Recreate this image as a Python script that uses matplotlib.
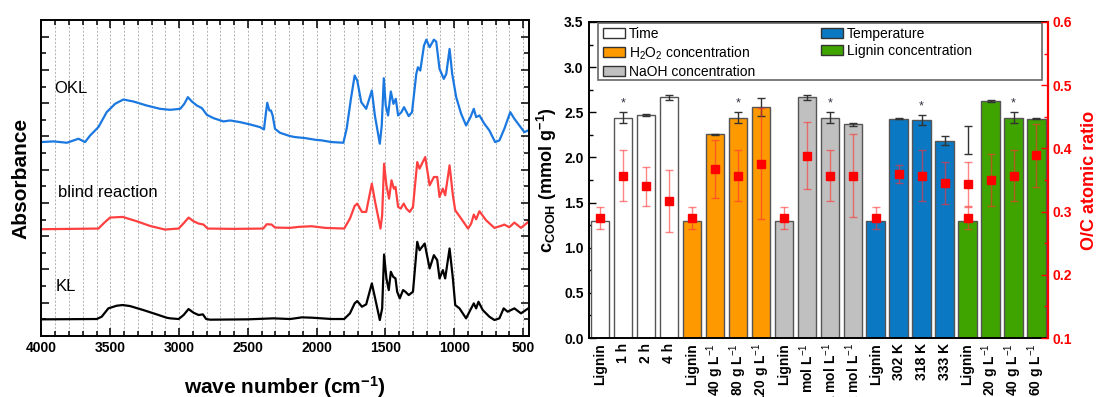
import numpy as np
import matplotlib
matplotlib.use("Agg")
import matplotlib.pyplot as plt
from matplotlib.patches import Patch, Rectangle
from matplotlib.ticker import MultipleLocator

plt.rcParams["font.family"] = ["Liberation Sans", "DejaVu Sans"]
plt.rcParams["mathtext.fontset"] = "custom"
plt.rcParams["mathtext.rm"] = "Liberation Sans"
plt.rcParams["mathtext.bf"] = "Liberation Sans:bold"
plt.rcParams["mathtext.it"] = "Liberation Sans:italic"

# ── FTIR spectra (wave number, absorbance in arbitrary units) ──────────────
kl_wn = [4004, 3598, 3562, 3514, 3453, 3410, 3357, 3260, 3163, 3091,
         3064, 3003, 2967, 2931, 2895, 2858, 2827, 2803, 2774, 2500, 2315, 2194,
         2157, 2108, 2036, 1963, 1891, 1800, 1758, 1724, 1705, 1671, 1640, 1599,
         1575, 1541, 1524, 1510, 1493, 1476, 1461, 1444, 1427, 1415, 1396, 1372,
         1355, 1331, 1300, 1269, 1252, 1215, 1179, 1148, 1124, 1107, 1083, 1066,
         1034, 1010, 993, 962, 914, 877, 858, 841, 824, 793, 745, 708, 672, 641,
         612, 563, 515, 462]
kl_ab = [0.050, 0.051, 0.058, 0.083, 0.091, 0.093, 0.090, 0.078, 0.065, 0.055,
         0.053, 0.051, 0.063, 0.081, 0.070, 0.063, 0.065, 0.051, 0.049, 0.050, 0.053, 0.051,
         0.053, 0.056, 0.055, 0.053, 0.051, 0.051, 0.068, 0.098, 0.105, 0.088, 0.095, 0.158,
         0.113, 0.048, 0.083, 0.245, 0.173, 0.138, 0.193, 0.178, 0.173, 0.133, 0.113, 0.138,
         0.133, 0.123, 0.133, 0.283, 0.258, 0.278, 0.203, 0.243, 0.228, 0.173, 0.198, 0.173,
         0.263, 0.173, 0.093, 0.083, 0.053, 0.083, 0.098, 0.083, 0.103, 0.078, 0.058, 0.048,
         0.053, 0.083, 0.073, 0.083, 0.068, 0.083]

blind_wn = [4004, 3586, 3550, 3502, 3410, 3308, 3212, 3103,
            3003, 2962, 2931, 2895, 2858, 2822, 2793, 2600, 2388, 2363, 2327, 2303, 2194,
            2132, 2036, 1939, 1800, 1758, 1724, 1705, 1671, 1640, 1599, 1575, 1536,
            1524, 1510, 1493, 1474, 1456, 1439, 1427, 1408, 1389, 1367, 1348, 1324,
            1300, 1269, 1252, 1235, 1211, 1179, 1148, 1124, 1107, 1083, 1066, 1034,
            1010, 993, 950, 900, 877, 858, 841, 817, 769, 708, 660, 636, 600, 563,
            515, 462]
blind_ab = [0.321, 0.323, 0.338, 0.356, 0.358, 0.345, 0.331, 0.320,
            0.323, 0.341, 0.356, 0.345, 0.338, 0.335, 0.323, 0.322, 0.323, 0.336, 0.335, 0.326, 0.325,
            0.328, 0.330, 0.325, 0.323, 0.353, 0.391, 0.398, 0.373, 0.373, 0.458, 0.403, 0.323,
            0.363, 0.518, 0.453, 0.413, 0.468, 0.443, 0.448, 0.388, 0.383, 0.398, 0.383, 0.373,
            0.388, 0.523, 0.503, 0.518, 0.538, 0.453, 0.478, 0.478, 0.418, 0.443, 0.423, 0.513,
            0.423, 0.378, 0.353, 0.323, 0.338, 0.365, 0.351, 0.375, 0.348, 0.325, 0.331, 0.335,
            0.327, 0.341, 0.325, 0.343]

okl_wn = [4004, 3912, 3815, 3731, 3683, 3646, 3586, 3526, 3465, 3405, 3332, 3236,
          3139, 3091, 3064, 2991, 2962, 2936, 2907, 2871, 2834, 2798, 2750, 2677,
          2629, 2557, 2484, 2412, 2383, 2368, 2359, 2344, 2332, 2320, 2303, 2267,
          2194, 2157, 2084, 2012, 1963, 1891, 1806, 1782, 1751, 1724, 1705, 1676,
          1640, 1599, 1577, 1541, 1527, 1512, 1498, 1481, 1461, 1442, 1425, 1408,
          1384, 1365, 1331, 1307, 1276, 1264, 1247, 1220, 1203, 1179, 1148, 1131,
          1107, 1076, 1058, 1034, 1015, 986, 950, 914, 882, 858, 841, 817, 781,
          745, 703, 672, 636, 593, 563, 527, 491, 462]
okl_ab = [0.583, 0.585, 0.581, 0.593, 0.583, 0.603, 0.628, 0.673, 0.698, 0.711, 0.705, 0.693,
          0.683, 0.681, 0.680, 0.683, 0.698, 0.718, 0.705, 0.693, 0.685, 0.665, 0.655, 0.645,
          0.648, 0.643, 0.636, 0.628, 0.621, 0.673, 0.701, 0.678, 0.678, 0.663, 0.623, 0.611,
          0.601, 0.598, 0.595, 0.590, 0.588, 0.583, 0.581, 0.623, 0.713, 0.783, 0.768, 0.703,
          0.683, 0.738, 0.663, 0.578, 0.633, 0.775, 0.693, 0.663, 0.735, 0.698, 0.713, 0.663,
          0.673, 0.688, 0.661, 0.673, 0.788, 0.808, 0.798, 0.873, 0.891, 0.868, 0.891, 0.885,
          0.803, 0.773, 0.788, 0.863, 0.788, 0.718, 0.668, 0.633, 0.658, 0.683, 0.658, 0.663, 0.638,
          0.618, 0.583, 0.588, 0.623, 0.673, 0.653, 0.633, 0.613, 0.618]

# ── bar chart data ─────────────────────────────────────────────────────────
bar_labels = ["Lignin", "1 h", "2 h", "4 h",
              "Lignin", "40 g L$^{-1}$", "80 g L$^{-1}$", "120 g L$^{-1}$",
              "Lignin", "0.5 mol L$^{-1}$", "1 mol L$^{-1}$", "2 mol L$^{-1}$",
              "Lignin", "302 K", "318 K", "333 K",
              "Lignin", "20 g L$^{-1}$", "40 g L$^{-1}$", "60 g L$^{-1}$"]
groups = ["Time", "H$_2$O$_2$ concentration", "NaOH concentration",
          "Temperature", "Lignin concentration"]
group_colors = ["#FFFFFF", "#FF9900", "#C0C0C0", "#0A78C2", "#3FA300"]
cooh = [1.30, 2.44, 2.47, 2.665, 1.30, 2.255, 2.44, 2.555, 1.30, 2.665,
        2.44, 2.366, 1.30, 2.43, 2.41, 2.185, 1.30, 2.625, 2.44, 2.43]
cooh_err = [0, 0.06, 0.015, 0.025, 0, 0.01, 0.06, 0.10, 0, 0.025,
            0.06, 0.02, 0, 0.005, 0.055, 0.05, 0, 0.015, 0.06, 0.005]
oc = [0.290, 0.357, 0.340, 0.317, 0.290, 0.367, 0.357, 0.376, 0.290, 0.388,
      0.357, 0.357, 0.290, 0.359, 0.357, 0.345, 0.290, 0.350, 0.357, 0.389]
oc_err = [0.017, 0.04, 0.031, 0.049, 0.017, 0.046, 0.04, 0.088, 0.017, 0.053,
          0.04, 0.066, 0.017, 0.014, 0.04, 0.033, 0.017, 0.041, 0.04, 0.05]
star_idx = [1, 6, 10, 14, 18]
# extra points drawn at the second "Lignin" of the last group
extra_x = 16
extra_cooh, extra_cooh_err = 2.19, 0.155
extra_oc, extra_oc_err = 0.344, 0.035

fig = plt.figure(figsize=(10.97, 3.97), dpi=100)

# ── left panel: spectra ────────────────────────────────────────────────────
ax = fig.add_axes([0.0378, 0.1537, 0.4444, 0.7959])
for wn in range(3900, 450, -100):
    ax.axvline(wn, color="#a8a8a8", ls=(0, (2.5, 2)), lw=0.6, zorder=0)
line_kw = dict(lw=1.6, solid_joinstyle="round", solid_capstyle="round")
ax.plot(kl_wn, kl_ab, color="black", **line_kw)
ax.plot(blind_wn, blind_ab, color="#FF4040", **line_kw)
ax.plot(okl_wn, okl_ab, color="#1A78E0", **line_kw)
ax.set_xlim(4000, 457)
ax.set_ylim(0, 0.95)
ax.xaxis.set_major_locator(MultipleLocator(500))
ax.xaxis.set_minor_locator(MultipleLocator(100))
ax.yaxis.set_major_locator(MultipleLocator(0.1))
ax.yaxis.set_minor_locator(MultipleLocator(0.05))
ax.tick_params(which="both", direction="in", top=True, right=True,
               labelleft=False, labelsize=10, width=1.1)
ax.tick_params(which="major", length=6)
ax.tick_params(which="minor", length=3.5)
for lab in ax.get_xticklabels():
    lab.set_fontweight("bold")
for sp in ax.spines.values():
    sp.set_linewidth(1.4)
ax.set_xlabel("wave number (cm$^{\\mathbf{-1}}$)", fontsize=15,
              fontweight="bold", labelpad=14)
ax.set_ylabel("Absorbance", fontsize=15, fontweight="bold", labelpad=8)
ax.text(3905, 0.745, "OKL", fontsize=12, va="center")
ax.text(3880, 0.43, "blind reaction", fontsize=12, va="center")
ax.text(3900, 0.15, "KL", fontsize=12, va="center")

# ── right panel: bars + O/C ratio ──────────────────────────────────────────
axb = fig.add_axes([0.5365, 0.1486, 0.4188, 0.796])
x = np.arange(len(cooh))
colors = [group_colors[i // 4] for i in x]
axb.bar(x, cooh, width=0.8, color=colors, edgecolor="#555555", lw=1.0, zorder=2)
ei = [i for i in x if cooh_err[i] > 0]
axb.errorbar(ei, [cooh[i] for i in ei], yerr=[cooh_err[i] for i in ei],
             fmt="none", ecolor="#333333", elinewidth=1.0, capsize=3, zorder=3)
axb.errorbar([extra_x], [extra_cooh], yerr=[extra_cooh_err], fmt="none",
             ecolor="#333333", elinewidth=1.0, capsize=3, zorder=3)
for i in star_idx:
    axb.text(i, cooh[i] + cooh_err[i] + 0.03, "*", ha="center", va="bottom",
             fontsize=9, color="#333344")
axb.set_xlim(-0.5, len(cooh) - 0.5)
axb.set_ylim(0, 3.5)
axb.yaxis.set_major_locator(MultipleLocator(0.5))
axb.yaxis.set_minor_locator(MultipleLocator(0.25))
axb.set_xticks(x)
axb.set_xticklabels(bar_labels, rotation=90, fontsize=10, fontweight="bold")
axb.tick_params(axis="x", direction="in", length=3, width=1.0)
axb.tick_params(axis="y", which="both", direction="in", width=1.0, labelsize=10)
axb.tick_params(axis="y", which="major", length=5)
axb.tick_params(axis="y", which="minor", length=3)
for lab in axb.get_yticklabels():
    lab.set_fontweight("bold")
axb.yaxis.set_major_formatter(matplotlib.ticker.FormatStrFormatter("%.1f"))
for sp in axb.spines.values():
    sp.set_linewidth(1.4)
axb.set_ylabel("c$_{\\mathbf{COOH}}$ (mmol g$^{\\mathbf{-1}}$)", fontsize=13,
               fontweight="bold", labelpad=4)

ax2 = axb.twinx()
ax2.errorbar(x, oc, yerr=oc_err, fmt="none", ecolor=(1, 0.2, 0.2, 0.6),
             elinewidth=1.0, capsize=3, zorder=4)
ax2.errorbar([extra_x], [extra_oc], yerr=[extra_oc_err], fmt="none",
             ecolor=(1, 0.2, 0.2, 0.6), elinewidth=1.0, capsize=3, zorder=4)
ax2.plot(x, oc, "s", color="#FF0000", ms=6, zorder=5)
ax2.plot([extra_x], [extra_oc], "s", color="#FF0000", ms=6, zorder=5)
ax2.set_ylim(0.1, 0.6)
ax2.yaxis.set_major_locator(MultipleLocator(0.1))
ax2.yaxis.set_minor_locator(MultipleLocator(0.05))
ax2.tick_params(axis="y", which="both", direction="in", colors="#FF0000",
                width=1.0, labelsize=10)
ax2.tick_params(axis="y", which="major", length=5)
ax2.tick_params(axis="y", which="minor", length=3)
for lab in ax2.get_yticklabels():
    lab.set_fontweight("bold")
ax2.yaxis.set_major_formatter(matplotlib.ticker.FormatStrFormatter("%.1f"))
for k in ["left", "top", "bottom"]:
    ax2.spines[k].set_visible(False)
ax2.spines["right"].set_color("#FF0000")
ax2.spines["right"].set_linewidth(1.6)
ax2.set_ylabel("O/C atomic ratio", fontsize=13, fontweight="bold",
               color="#FF0000", labelpad=6)

# legend: frame + two columns
axb.add_patch(Rectangle((0.021, 0.816), 0.965, 0.181, transform=axb.transAxes,
                        fill=True, facecolor="white", edgecolor="#666666",
                        lw=1.2, zorder=6))
handles = [Patch(facecolor=c, edgecolor="#333333", lw=1.0) for c in group_colors]
leg1 = axb.legend(handles[:3], groups[:3], loc="upper left",
                  bbox_to_anchor=(0.032, 0.985), frameon=False, fontsize=10,
                  handlelength=1.6, handleheight=0.7, handletextpad=0.25,
                  labelspacing=0.25, borderpad=0, borderaxespad=0)
leg1.set_zorder(7)
axb.add_artist(leg1)
leg2 = axb.legend(handles[3:], groups[3:], loc="upper left",
                  bbox_to_anchor=(0.506, 0.985), frameon=False, fontsize=10,
                  handlelength=1.6, handleheight=0.7, handletextpad=0.25,
                  labelspacing=0.25, borderpad=0, borderaxespad=0)
leg2.set_zorder(7)

fig.savefig("out.png", dpi=100)
